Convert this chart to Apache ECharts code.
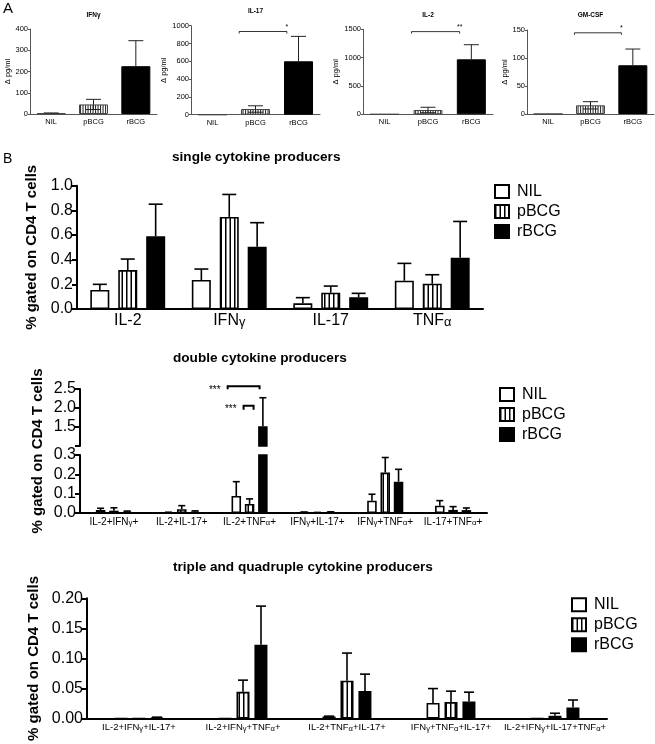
<!DOCTYPE html>
<html><head><meta charset="utf-8">
<script src="https://cdn.jsdelivr.net/npm/echarts@6/dist/echarts.min.js"></script>
<style>html,body{margin:0;padding:0;background:#fff}#c{width:655px;height:744px}</style>
</head><body><div id="c"></div>
<script>
// ---------- Panel A data ----------
const groups = ['NIL', 'pBCG', 'rBCG'];
const aTitles = ['IFNγ', 'IL-17', 'IL-2', 'GM-CSF'];
const aIFNg = [3, 45, 225];
const aIFNgErr = [2, 24, 120];
const aIL17 = [0, 64, 600];
const aIL17Err = [0, 36, 280];
const aIL2 = [0, 76, 970];
const aIL2Err = [0, 48, 258];
const aGMCSF = [0, 15.5, 87];
const aGMCSFErr = [0, 6.5, 29];
const aYMax = [400, 1000, 1500, 150];
const aYInterval = [100, 200, 500, 50];
const aSigLabels = ['', '*', '**', '*'];
const aSigLevel = [0, 935, 1459, 145];

// ---------- Panel B data ----------
const singleCats = ['IL-2', 'IFNγ', 'IL-17', 'TNFα'];
const singleNIL = [0.154, 0.235, 0.046, 0.229];
const singleNILErr = [0.046, 0.089, 0.046, 0.141];
const singlePBCG = [0.316, 0.747, 0.132, 0.205];
const singlePBCGErr = [0.089, 0.182, 0.054, 0.073];
const singleRBCG = [0.59, 0.505, 0.095, 0.415];
const singleRBCGErr = [0.26, 0.195, 0.032, 0.295];

const doubleCats = ['IL-2+IFNγ+', 'IL-2+IL-17+', 'IL-2+TNFα+', 'IFNγ+IL-17+', 'IFNγ+TNFα+', 'IL-17+TNFα+'];
const doubleNIL = [0.0155, 0.003, 0.088, 0.004, 0.064, 0.038];
const doubleNILErr = [0.009, 0.001, 0.074, 0.001, 0.033, 0.026];
const doublePBCG = [0.012, 0.02, 0.047, 0.002, 0.209, 0.016];
const doublePBCGErr = [0.015, 0.018, 0.026, 0.001, 0.078, 0.017];
const doubleRBCG = [0.007, 0.008, 1.52, 0.005, 0.162, 0.015];
const doubleRBCGErr = [0.003, 0.003, 0.75, 0.001, 0.064, 0.011];

const tripleCats = ['IL-2+IFNγ+IL-17+', 'IL-2+IFNγ+TNFα+', 'IL-2+TNFα+IL-17+', 'IFNγ+TNFα+IL-17+', 'IL-2+IFNγ+IL-17+TNFα+'];
const tripleNIL = [0, 0, 0.0037, 0.026, 0];
const tripleNILErr = [0, 0, 0.0005, 0.024, 0];
const triplePBCG = [0, 0.0446, 0.063, 0.0276, 0.0048];
const triplePBCGErr = [0, 0.0194, 0.046, 0.0181, 0.0042];
const tripleRBCG = [0.002, 0.123, 0.046, 0.0287, 0.0186];
const tripleRBCGErr = [0.0005, 0.064, 0.028, 0.0153, 0.0124];

// ---------- styling helpers ----------
const FF = '"Liberation Sans", Arial, Helvetica, sans-serif';
function stripes(w, h, lines, lw, color) {
  const c = document.createElement('canvas'); c.width = w; c.height = h;
  const g = c.getContext('2d'); g.fillStyle = '#fff'; g.fillRect(0, 0, w, h);
  g.fillStyle = color; lines.forEach(x => g.fillRect(x, 0, lw, h)); return c;
}
const patA = { image: stripes(5, 4, [0, 2.5], 1.1, '#333'), repeat: 'repeat' };
const patB = { image: stripes(9, 4, [0, 4.5], 1.5, '#000'), repeat: 'repeat' };

const grids = [
  [30, 29, 127, 85], [191, 25.7, 129, 89], [363, 29.3, 130, 85], [527, 30, 127, 84],
  [77, 185.7, 406, 123.3], [80, 389, 407, 57], [80, 455, 407, 58], [87, 598.3, 520, 125.7]
];

function errSeries(gi, vals, errs, k, n, pitch, capW, lw, yMin, yMax, bothFn, color) {
  return {
    type: 'custom', xAxisIndex: gi, yAxisIndex: gi, silent: true, z: 5,
    data: vals.map((v, i) => [i, v, errs[i]]),
    renderItem(params, api) {
      const i = api.value(0), v = api.value(1), e = api.value(2);
      if (!(e > 0) || v < yMin || v > yMax) return;
      const off = (k - (n - 1) / 2) * pitch;
      const p0 = api.coord([i, v]), p1 = api.coord([i, v + e]);
      const x = p0[0] + off;
      const st = { stroke: color, lineWidth: lw };
      const ch = [
        { type: 'line', shape: { x1: x, y1: p0[1], x2: x, y2: p1[1] }, style: st },
        { type: 'line', shape: { x1: x - capW / 2, y1: p1[1], x2: x + capW / 2, y2: p1[1] }, style: st }
      ];
      if (bothFn(i)) {
        const p2 = api.coord([i, Math.max(0, v - e)]);
        ch.push({ type: 'line', shape: { x1: x, y1: p0[1], x2: x, y2: p2[1] }, style: st });
        ch.push({ type: 'line', shape: { x1: x - capW / 2, y1: p2[1], x2: x + capW / 2, y2: p2[1] }, style: st });
      }
      return { type: 'group', children: ch };
    }
  };
}

function bracketSeries(gi, items) {
  return {
    type: 'custom', xAxisIndex: gi, yAxisIndex: gi, silent: true, z: 6, clip: false,
    data: items.map((it, j) => [it.c0, it.y, j]),
    renderItem(params, api) {
      const it = items[api.value(2)];
      const band = api.size([1, 0])[0];
      const unit = it.pitch ? it.pitch : band;
      const a = api.coord([it.c0, it.y]), b = api.coord([it.c1, it.y]);
      const x0 = a[0] + it.o0 * unit, x1 = b[0] + it.o1 * unit, y = a[1];
      const st = { stroke: '#000', lineWidth: it.lw, fill: null };
      const ch = [{ type: 'polyline', shape: { points: [[x0, y + it.tick], [x0, y], [x1, y], [x1, y + it.tick]] }, style: st }];
      if (it.labelSide === 'right') {
        ch.push({ type: 'text', style: { text: it.label, x: x1, y: y - 1, fontSize: it.fs, fontFamily: FF, fill: '#000', align: 'center', verticalAlign: 'bottom' } });
      } else {
        ch.push({ type: 'text', style: { text: it.label, x: x0 - 7, y: y + it.fs * 0.35, fontSize: it.fs, fontFamily: FF, fill: '#000', align: 'right', verticalAlign: 'middle' } });
      }
      return { type: 'group', children: ch };
    }
  };
}

const option = {
  animation: false,
  backgroundColor: '#fff',
  textStyle: { fontFamily: FF },
  grid: grids.map(g => ({ left: g[0], top: g[1], width: g[2], height: g[3] })),
  xAxis: [], yAxis: [], series: [], legend: [], graphic: []
};

// ---------- Panel A ----------
const aVals = [aIFNg, aIL17, aIL2, aGMCSF];
const aErrs = [aIFNgErr, aIL17Err, aIL2Err, aGMCSFErr];
const aLine = { color: '#555', width: 1 };
const aBarStyles = [
  { color: '#fff', borderColor: '#444', borderWidth: 1 },
  { color: patA, borderColor: '#444', borderWidth: 1 },
  { color: '#000', borderColor: '#000', borderWidth: 1 }
];
for (let i = 0; i < 4; i++) {
  option.xAxis.push({
    gridIndex: i, type: 'category', data: groups,
    axisLine: { lineStyle: aLine }, axisTick: { alignWithLabel: true, length: 2, lineStyle: aLine },
    axisLabel: { fontSize: 7.5, color: '#000', margin: 4, interval: 0 }
  });
  option.yAxis.push({
    gridIndex: i, type: 'value', min: 0, max: aYMax[i], interval: aYInterval[i],
    splitLine: { show: false }, axisLine: { show: true, lineStyle: aLine },
    axisTick: { show: true, length: 2, lineStyle: aLine },
    axisLabel: { fontSize: 7.5, color: '#000', margin: 2, formatter: v => String(v) },
    name: 'Δ pg/ml', nameLocation: 'middle', nameGap: i === 2 ? 20 : 18,
    nameTextStyle: { fontSize: 7.5, color: '#000' }
  });
  option.series.push({
    type: 'bar', name: 'A' + i, xAxisIndex: i, yAxisIndex: i, barWidth: 29,
    data: aVals[i].map((v, j) => ({ value: v, itemStyle: aBarStyles[j] }))
  });
  option.series.push(errSeries(i, aVals[i], aErrs[i], 0, 1, 0, 15, 1, 0, Infinity, j => j === 1, '#222'));
  if (aSigLabels[i]) {
    option.series.push(bracketSeries(i, [{ c0: 1, o0: -0.38, c1: 2, o1: -0.27, y: aSigLevel[i], label: aSigLabels[i], fs: 7, tick: 2, lw: 0.8, labelSide: 'right' }]));
  }
  const g = grids[i];
  option.graphic.push({ type: 'text', x: g[0] + g[2] / 2, y: i === 1 ? 11 : 15,
    style: { text: aTitles[i], fontSize: 6.5, fontWeight: 'bold', fontFamily: FF, fill: '#000', align: 'center', verticalAlign: 'middle' } });
}

// ---------- Panel B helpers ----------
const bLine = { color: '#000', width: 2 };
const bStyles = {
  NIL: { color: '#fff', borderColor: '#000', borderWidth: 1.6 },
  pBCG: { color: patB, borderColor: '#000', borderWidth: 1.6 },
  rBCG: { color: '#000', borderColor: '#000', borderWidth: 1.6 }
};
const greek = s => s.replace(/([γα])/g, '{g|$1}');
function bX(gi, cats, fs, show) {
  return {
    gridIndex: gi, type: 'category', data: cats, show: show !== false,
    axisLine: { lineStyle: bLine }, axisTick: { alignWithLabel: true, length: 5, lineStyle: bLine },
    axisLabel: { fontSize: fs, color: '#000', margin: 4, interval: 0, formatter: greek,
      rich: { g: { fontSize: fs * 0.8, color: '#000', verticalAlign: 'bottom', padding: [0, 0, 0, 0] } } }
  };
}
function bY(gi, min, max, interval, fmt, extra) {
  return Object.assign({
    gridIndex: gi, type: 'value', min, max, interval,
    splitLine: { show: false }, axisLine: { show: true, lineStyle: bLine },
    axisTick: { show: true, length: 5, lineStyle: bLine },
    axisLabel: { fontSize: 16, color: '#000', margin: 4, formatter: fmt }
  }, extra || {});
}
function bBars(gi, sets, bw, gapPct) {
  ['NIL', 'pBCG', 'rBCG'].forEach((nm, k) => {
    option.series.push({ type: 'bar', name: nm, xAxisIndex: gi, yAxisIndex: gi, barWidth: bw, barGap: gapPct,
      clip: true, itemStyle: bStyles[nm], data: sets[k] });
  });
}
function bErr(gi, sets, errs, pitch, capW, yMin, yMax) {
  sets.forEach((s, k) => option.series.push(errSeries(gi, s, errs[k], k, 3, pitch, capW, 1.6, yMin, yMax, () => false, '#000')));
}
const yName = { fontSize: 15, fontWeight: 'bold', color: '#000' };
function legendAt(left, top) {
  option.legend.push({ orient: 'vertical', left, top, padding: 0, itemWidth: 14, itemHeight: 13, itemGap: 4,
    icon: 'rect', selectedMode: false, data: ['NIL', 'pBCG', 'rBCG'],
    textStyle: { fontSize: 16, color: '#000', padding: [0, 0, 0, 3] } });
}

// single
option.xAxis.push(bX(4, singleCats, 16));
option.yAxis.push(bY(4, 0, 1, 0.2, v => v.toFixed(1),
  { name: '% gated on CD4 T cells', nameLocation: 'middle', nameGap: 31, nameTextStyle: yName }));
bBars(4, [singleNIL, singlePBCG, singleRBCG], 19, '47%');
bErr(4, [singleNIL, singlePBCG, singleRBCG], [singleNILErr, singlePBCGErr, singleRBCGErr], 27.9, 14, 0, 1);
legendAt(494, 183.5);

// double (broken axis: upper and lower grids)
option.xAxis.push(bX(5, doubleCats, 10, false));
option.yAxis.push(bY(5, 1, 2.5, 0.5, v => (v === 1 ? '' : v.toFixed(1))));
bBars(5, [doubleNIL, doublePBCG, doubleRBCG], 9.5, '40%');
bErr(5, [doubleNIL, doublePBCG, doubleRBCG], [doubleNILErr, doublePBCGErr, doubleRBCGErr], 13.3, 7, 1, 2.5);
option.series.push(bracketSeries(5, [
  { c0: 2, o0: -1.65, c1: 2, o1: 0.75, pitch: 13.3, y: 2.57, label: '***', fs: 10, tick: 3, lw: 2, labelSide: 'left' },
  { c0: 2, o0: -0.45, c1: 2, o1: 0.3, pitch: 13.3, y: 2.06, label: '***', fs: 10, tick: 4, lw: 2, labelSide: 'left' }
]));
option.xAxis.push(bX(6, doubleCats, 10));
option.yAxis.push(bY(6, 0, 0.3, 0.1, v => v.toFixed(1)));
bBars(6, [doubleNIL, doublePBCG, doubleRBCG], 9.5, '40%');
bErr(6, [doubleNIL, doublePBCG, doubleRBCG], [doubleNILErr, doublePBCGErr, doubleRBCGErr], 13.3, 7, 0, 0.3);
legendAt(499, 386.5);

// triple
option.xAxis.push(bX(7, tripleCats, 9.5));
option.yAxis.push(bY(7, 0, 0.2, 0.05, v => v.toFixed(2),
  { name: '% gated on CD4 T cells', nameLocation: 'middle', nameGap: 41, nameTextStyle: yName }));
bBars(7, [tripleNIL, triplePBCG, tripleRBCG], 13, '38%');
bErr(7, [tripleNIL, triplePBCG, tripleRBCG], [tripleNILErr, triplePBCGErr, tripleRBCGErr], 18, 10, 0, 0.2);
legendAt(571, 596.8);

// texts
const T = (text, x, y, fs, bold, align) => ({ type: 'text', x, y,
  style: { text, fontSize: fs, fontWeight: bold ? 'bold' : 'normal', fontFamily: FF, fill: '#000', align: align || 'left', verticalAlign: 'middle' } });
option.graphic.push(T('A', 3, 9, 15, false));
option.graphic.push(T('B', 3, 159, 14, false));
option.graphic.push(T('single cytokine producers', 172, 157, 13.6, true));
option.graphic.push(T('double cytokine producers', 173, 358, 13.6, true));
option.graphic.push(T('triple and quadruple cytokine producers', 173, 567, 13.6, true));
option.graphic.push({ type: 'text', x: 38, y: 451, rotation: Math.PI / 2,
  style: { text: '% gated on CD4 T cells', fontSize: 15, fontWeight: 'bold', fontFamily: FF, fill: '#000', align: 'center', verticalAlign: 'middle' } });

const chart = echarts.init(document.getElementById('c'), null, { renderer: 'canvas', width: 655, height: 744 });
chart.setOption(option);
</script>
</body></html>
